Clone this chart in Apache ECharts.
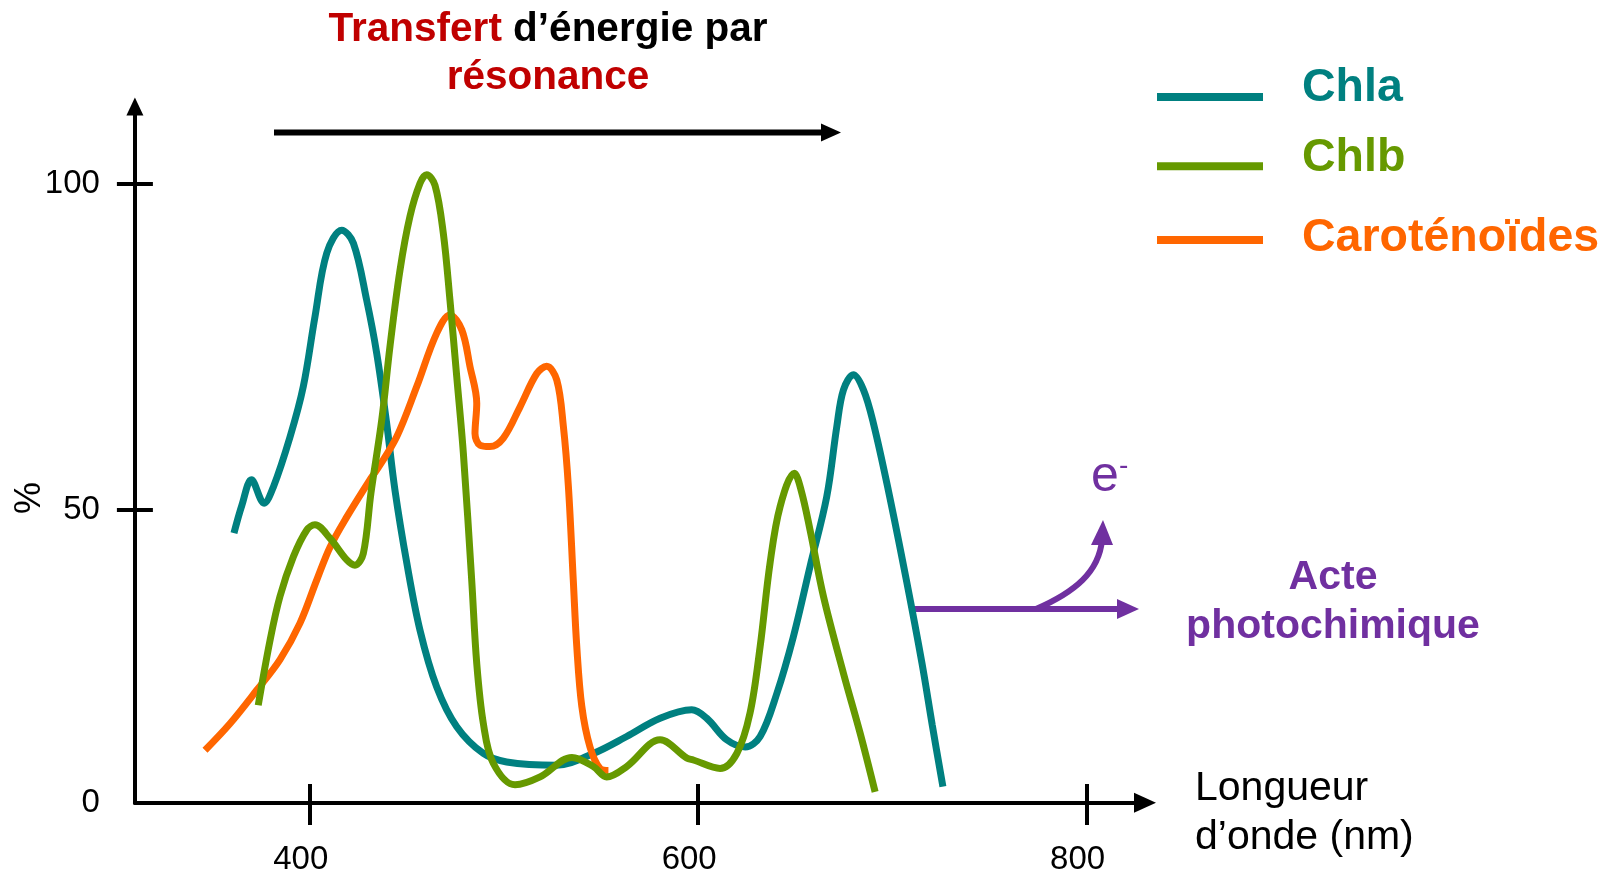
<!DOCTYPE html>
<html>
<head>
<meta charset="utf-8">
<script src="https://cdn.jsdelivr.net/npm/echarts@6/dist/echarts.min.js"></script>
<style>
  html, body { margin: 0; padding: 0; background: #ffffff; }
  #chart { width: 1624px; height: 877px; }
</style>
</head>
<body>
<div id="chart"></div>
<script>
// ---- data (wavelength nm, % absorption) ----
const xTickValues = [400, 600, 800];
const yTickValues = [50, 100];
const yLabelValues = [5, 50, 100];   // the origin (axis line) is labelled "0"
const seriesNames = ['Chla', 'Chlb', 'Caroténoïdes'];

const chla = [
  [361, 46.4], [365.1, 50.7], [370, 54.6], [376.5, 51.0], [381.3, 53.5], [389.9, 61.2],
  [396.7, 68.9], [402.7, 79.6], [408.8, 89.4], [416.5, 92.9], [422.5, 90.9], [429.3, 82.2],
  [434.5, 74.0], [439.6, 63.3], [443.9, 53.0], [450, 41.8], [456.8, 31.5], [465.4, 22.8],
  [475.7, 16.7], [489.4, 12.6], [501.4, 11.3], [527, 10.8], [546, 12.6], [563.2, 15.2],
  [580.4, 18.0], [596.7, 19.3], [604.4, 18.0], [614.7, 14.7], [624.2, 13.6], [631.9, 15.2],
  [640.5, 21.8], [649, 30.5], [657.6, 41.3], [666.2, 52.0], [671.4, 62.8], [674.8, 68.4],
  [679.9, 70.7], [685.1, 68.4], [690.2, 63.3], [697.9, 53.0], [707.2, 39.2], [715.2, 26.5],
  [720.5, 17.0], [726, 7.5]
];

const chlb = [
  [373.5, 20.0], [379.6, 30.0], [384.7, 36.7], [391.6, 42.8], [398.5, 46.9], [402.7, 47.7],
  [410.5, 45.6], [419.1, 42.3], [423.3, 41.5], [427.6, 43.3], [431.5, 52.5], [437.1, 63.8],
  [441.3, 75.0], [446.5, 86.8], [451.6, 95.0], [456.8, 100.1], [460.2, 101.4], [464.5, 99.8],
  [468.8, 92.4], [472.2, 82.2], [475.7, 70.4], [479.1, 58.7], [483.4, 39.2], [486, 26.4],
  [489.4, 17.2], [494.5, 11.1], [505.7, 7.8], [518.6, 9.0], [535, 12.0], [546, 10.6],
  [552.9, 9.0], [563.2, 10.6], [580.4, 14.7], [594.1, 11.9], [597.5, 11.6], [611.3, 10.3],
  [619.9, 12.6], [626.7, 18.8], [631.9, 29.0], [637, 41.8], [642.2, 50.5], [649.5, 55.6],
  [653, 53.0], [657.6, 46.9], [664.5, 36.7], [674.8, 24.9], [683.4, 15.7], [691.1, 6.7]
];

const carot = [
  [346.1, 13.1], [359, 17.2], [372.7, 22.3], [384.7, 27.0], [395, 32.6], [403.6, 39.2],
  [410.5, 44.3], [419.1, 48.9], [431, 54.6], [434.5, 56.1], [444.8, 61.2], [455.1, 68.9],
  [465.4, 77.1], [472.2, 79.9], [478.3, 77.6], [482.5, 72.0], [486, 66.3], [485.1, 61.7],
  [487.7, 59.9], [492.8, 59.7], [499.7, 61.0], [508.3, 65.8], [516.9, 70.9], [522, 72.0],
  [527.2, 69.9], [530.6, 62.8], [533.2, 53.5], [535.7, 39.2], [537.5, 29.0], [540.1, 19.8],
  [544.3, 13.6], [549.5, 10.3], [553.8, 10.0]
];

// ---- styles ----
const FONT = "'Liberation Sans', Arial, sans-serif";
const C_TEAL = '#008080', C_GREEN = '#669900', C_ORANGE = '#FF6600';
const C_PURPLE = '#7030A0', C_RED = '#C00000';
const colorByName = { 'Chla': C_TEAL, 'Chlb': C_GREEN, 'Caroténoïdes': C_ORANGE };

const chart = echarts.init(document.getElementById('chart'), null, { renderer: 'canvas' });

function legendFor(name, top, padBottom) {
  return {
    data: [name], left: 1157, top: top, orient: 'vertical', padding: 0,
    icon: 'rect', itemWidth: 106, itemHeight: 8, selectedMode: false,
    formatter: '{t|{name}}',
    textStyle: {
      rich: {
        t: { color: colorByName[name], fontSize: 46.5, fontWeight: 'bold', fontFamily: FONT,
             padding: [0, 0, padBottom, 34] }
      }
    }
  };
}

function lineSeries(name, data) {
  return {
    name: name, type: 'line', data: data, smooth: 0.35, showSymbol: false, symbol: 'none',
    xAxisIndex: 0, yAxisIndex: 0,
    lineStyle: { color: colorByName[name], width: 7, cap: 'butt' },
    itemStyle: { color: colorByName[name] },
    emphasis: { disabled: true }, animation: false
  };
}

const axisLineStyle = { color: '#000', width: 4 };

const option = {
  backgroundColor: '#ffffff',
  animation: false,
  grid: { left: 134.9, top: 107, width: 1010, height: 696, containLabel: false, outerBoundsMode: 'none' },
  legend: [
    legendFor('Chla', 64.4, 18),
    legendFor('Chlb', 134.3, 17),
    legendFor('Caroténoïdes', 214.9, 3)
  ],
  xAxis: [
    {
      type: 'value', min: 310, max: 830, position: 'bottom',
      axisLine: { show: true, onZero: false, lineStyle: axisLineStyle },
      axisTick: { show: true, customValues: xTickValues, inside: false, length: 22, lineStyle: axisLineStyle },
      axisLabel: { show: true, customValues: xTickValues, fontSize: 33, color: '#000', fontFamily: FONT,
                   margin: 40, padding: [0, 18, 0, 0] },
      splitLine: { show: false }
    },
    {
      type: 'value', min: 310, max: 830, position: 'bottom',
      axisLine: { show: false, onZero: false },
      axisTick: { show: true, customValues: xTickValues, inside: true, length: 19, lineStyle: axisLineStyle },
      axisLabel: { show: false },
      splitLine: { show: false }
    }
  ],
  yAxis: [
    {
      type: 'value', min: 5, max: 111.8, position: 'left',
      axisLine: { show: true, onZero: false, lineStyle: axisLineStyle },
      axisTick: { show: true, customValues: yTickValues, inside: false, length: 18, lineStyle: axisLineStyle },
      axisLabel: { show: true, customValues: yLabelValues, fontSize: 33, color: '#000', fontFamily: FONT, margin: 35,
                   formatter: function (v) { return v === yLabelValues[0] ? '0' : String(v); } },
      splitLine: { show: false }
    },
    {
      type: 'value', min: 5, max: 111.8, position: 'left',
      axisLine: { show: false, onZero: false },
      axisTick: { show: true, customValues: yTickValues, inside: true, length: 18, lineStyle: axisLineStyle },
      axisLabel: { show: false },
      splitLine: { show: false }
    }
  ],
  series: [
    lineSeries('Chla', chla),
    lineSeries('Caroténoïdes', carot),
    lineSeries('Chlb', chlb)
  ],
  graphic: [
    // axis arrowheads
    { type: 'polygon', shape: { points: [[1156, 802.7], [1134, 792.7], [1134, 812.7]] }, style: { fill: '#000' } },
    { type: 'polygon', shape: { points: [[134.9, 97.5], [126.4, 115.5], [143.4, 115.5]] }, style: { fill: '#000' } },
    // title annotation
    { type: 'text', x: 548, y: 30, style: {
        text: '{r|Transfert}{k| d’énergie par}', align: 'center', verticalAlign: 'middle',
        rich: {
          r: { fill: C_RED, fontSize: 40.5, fontWeight: 'bold', fontFamily: FONT },
          k: { fill: '#000', fontSize: 40.5, fontWeight: 'bold', fontFamily: FONT }
        } } },
    { type: 'text', x: 548, y: 77.6, style: {
        text: 'résonance', fill: C_RED, fontSize: 40.5, fontWeight: 'bold', fontFamily: FONT,
        align: 'center', verticalAlign: 'middle' } },
    // black arrow
    { type: 'line', shape: { x1: 274, y1: 132.6, x2: 824, y2: 132.6 }, style: { stroke: '#000', lineWidth: 6 } },
    { type: 'polygon', shape: { points: [[841, 132.6], [821, 123.6], [821, 141.6]] }, style: { fill: '#000' } },
    // y-axis name
    { type: 'text', x: 30, y: 498, rotation: Math.PI / 2, style: {
        text: '%', fill: '#000', fontSize: 36, fontFamily: FONT, align: 'center', verticalAlign: 'middle' } },
    // x-axis name
    { type: 'text', x: 1195, y: 789, style: {
        text: 'Longueur', fill: '#000', fontSize: 41, fontFamily: FONT, align: 'left', verticalAlign: 'middle' } },
    { type: 'text', x: 1195, y: 838, style: {
        text: 'd’onde (nm)', fill: '#000', fontSize: 41, fontFamily: FONT, align: 'left', verticalAlign: 'middle' } },
    // purple arrows
    { type: 'line', shape: { x1: 911, y1: 609, x2: 1120, y2: 609 }, style: { stroke: C_PURPLE, lineWidth: 6 } },
    { type: 'polygon', shape: { points: [[1139, 609], [1117, 599], [1117, 619]] }, style: { fill: C_PURPLE } },
    { type: 'bezierCurve', shape: { x1: 1036, y1: 609, cpx1: 1075, cpy1: 592, cpx2: 1099, cpy2: 572, x2: 1102, y2: 540 },
      style: { stroke: C_PURPLE, lineWidth: 6, fill: null } },
    { type: 'polygon', shape: { points: [[1103, 520], [1091, 545], [1113, 545]] }, style: { fill: C_PURPLE } },
    // e-
    { type: 'text', x: 1091, y: 477, style: {
        text: 'e', fill: C_PURPLE, fontSize: 50, fontFamily: FONT, align: 'left', verticalAlign: 'middle' } },
    { type: 'text', x: 1119, y: 466, style: {
        text: '-', fill: C_PURPLE, fontSize: 28, fontFamily: FONT, align: 'left', verticalAlign: 'middle' } },
    // Acte photochimique
    { type: 'text', x: 1333, y: 577.5, style: {
        text: 'Acte', fill: C_PURPLE, fontSize: 41, fontWeight: 'bold', fontFamily: FONT, align: 'center', verticalAlign: 'middle' } },
    { type: 'text', x: 1333, y: 627, style: {
        text: 'photochimique', fill: C_PURPLE, fontSize: 41, fontWeight: 'bold', fontFamily: FONT, align: 'center', verticalAlign: 'middle' } }
  ]
};

chart.setOption(option);
</script>
</body>
</html>
